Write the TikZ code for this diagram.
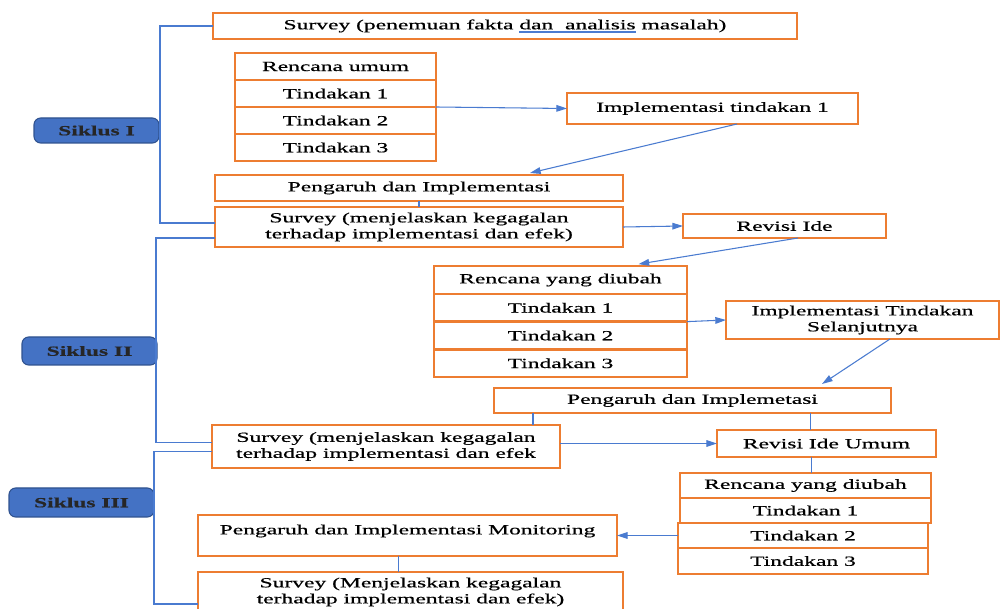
\documentclass[tikz,border=0pt]{standalone}
\usepackage{fontspec}
\setmainfont{Liberation Serif}[FakeStretch=1.68, FakeBold=0.6]
\usepackage{tikz}
\usetikzlibrary{arrows.meta, positioning, calc}
\usepackage{xcolor}
\definecolor{boxorange}{HTML}{ED7D31}
\definecolor{cyclefill}{HTML}{4472C4}
\definecolor{cycledraw}{HTML}{2F528F}
\definecolor{linkblue}{HTML}{4A7BD0}
\newcommand{\grammarline}[1]{\setbox0\hbox{#1}\rlap{\textcolor{linkblue}{\rule[-2.4pt]{\wd0}{1pt}}}\box0\relax}

\begin{document}
\begin{tikzpicture}[
  x=0.75pt, y=-0.75pt,
  node distance=0pt,
  box/.style={rectangle, draw=boxorange, line width=2pt, fill=white,
              inner sep=0pt, outer sep=0pt, align=center,
              font=\fontsize{10.5}{12}\selectfont},
  size/.style 2 args={minimum width=#1*0.75pt, minimum height=#2*0.75pt},
  cycle/.style={rectangle, rounded corners=5pt, draw=cycledraw, fill=cyclefill,
                line width=0.8pt, inner sep=0pt, text=black!85,
                font=\fontsize{10.5}{12}\selectfont\bfseries},
  link/.style={draw=linkblue, line width=0.8pt},
  arrow/.style={link, -{Triangle[length=8pt, width=5pt]}}
]
\useasboundingbox (0,0) rectangle (1001,609);

\node[box, size={584}{26}] (surv1) at (505,26) {Survey (penemuan fakta \grammarline{dan~~analisis} masalah)};
\node[box, size={201}{27}] (plan1) at (335.5,66.5) {Rencana umum};
\node[box, size={201}{27}, below=of plan1] (act11) {Tindakan 1};
\node[box, size={201}{27}, below=of act11] (act12) {Tindakan 2};
\node[box, size={201}{27}, below=of act12] (act13) {Tindakan 3};
\node[box, size={291}{31}] (impl1) at (712.5,108.5) {Implementasi tindakan 1};
\node[box, size={408}{26}] (eff1) at (419,188) {Pengaruh dan Implementasi};
\node[box, size={408}{40}] (surv2) at (419,227) {Survey (menjelaskan kegagalan\\terhadap implementasi dan efek)};
\node[box, size={203}{24}] (rev1) at (784.5,226) {Revisi Ide};

\node[box, size={253}{27.75}] (plan2) at (560.5,280) {Rencana yang diubah};
\node[box, size={253}{27.75}, below=of plan2] (act21) {Tindakan 1};
\node[box, size={253}{27.75}, below=of act21] (act22) {Tindakan 2};
\node[box, size={253}{27.75}, below=of act22] (act23) {Tindakan 3};
\node[box, size={273}{38}] (impl2) at (862.5,320) {Implementasi Tindakan\\Selanjutnya};
\node[box, size={397}{25}] (eff2) at (692.5,400.5) {Pengaruh dan Implemetasi};
\node[box, size={348}{43}] (surv3) at (386,446.5) {Survey (menjelaskan kegagalan\\terhadap implementasi dan efek};
\node[box, size={219}{27}] (rev2) at (826.5,443.5) {Revisi Ide Umum};

\node[box, size={251}{25}] (plan3) at (805.5,485.5) {Rencana yang diubah};
\node[box, size={251}{25}, below=of plan3] (act31) {Tindakan 1};
\node[box, size={250}{25}] (act32) at (803,535.5) {Tindakan 2};
\node[box, size={250}{26}, below=of act32] (act33) {Tindakan 3};
\node[box, size={419}{41}, text depth=9pt] (mon) at (407.5,535.5) {Pengaruh dan Implementasi Monitoring};
\node[box, size={425}{40}] (surv4) at (410.5,592) {Survey (Menjelaskan kegagalan\\terhadap implementasi dan efek)};

\node[cycle, size={125}{25}] (cyc1) at (96.5,130.5) {Siklus I};
\node[cycle, size={135}{28}] (cyc2) at (89.5,351) {Siklus II};
\node[cycle, size={145}{29}] (cyc3) at (81.5,502.5) {Siklus III};

\draw[link] (surv1.west) -- ++(-53,0) |- ($(surv2.west)+(0,-4)$);
\draw[link] ($(surv2.west)+(0,11)$) -- ++(-59,0) |- ($(surv3.west)+(0,-4)$);
\draw[link] ($(surv3.west)+(0,5)$) -- ++(-58,0) |- ($(surv4.west)+(0,12)$);

\draw[arrow] (act11.south east) -- (impl1.west);
\draw[arrow] ($(impl1.south)+(24.5,0)$) -- ($(eff1.north)+(111,-2)$);
\draw[link] (eff1.south) -- (surv2.north);
\draw[arrow] (surv2.east) -- (rev1.west);
\draw[arrow] ($(rev1.south)+(13.5,0)$) -- ($(plan2.north)+(78,-2)$);
\draw[arrow] (act21.south east) -- (impl2.west);
\draw[arrow] ($(impl2.south)+(27.5,0)$) -- ($(eff2.north)+(129.5,-4)$);
\draw[link] ($(eff2.south west)+(39,0)$) coordinate (drop1) -- (drop1 |- surv3.north);
\draw[link] ($(rev2.north)+(-16,0)$) coordinate (drop2) -- (drop2 |- eff2.south);
\draw[arrow] (rev2.west -| surv3.east) -- (rev2.west);
\draw[link] ($(rev2.south)+(-15,0)$) coordinate (drop3) -- (drop3 |- plan3.north);
\draw[arrow] (act32.west) -- (mon.east);
\draw[link] ($(mon.south)+(-9,0)$) coordinate (drop4) -- (drop4 |- surv4.north);

\end{tikzpicture}
\end{document}
